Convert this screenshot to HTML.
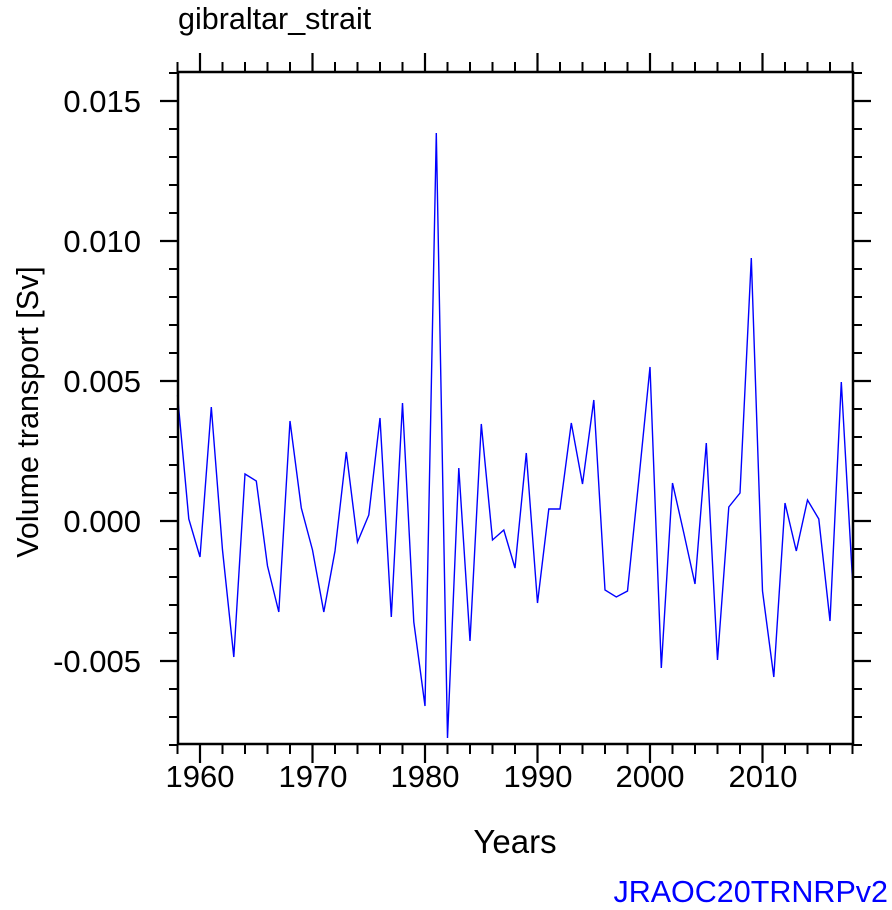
<!DOCTYPE html>
<html><head><meta charset="utf-8"><style>
html,body{margin:0;padding:0;background:#fff;}
svg{display:block;font-family:"Liberation Sans",Arial,sans-serif;}
</style></head><body>
<svg width="892" height="910" viewBox="0 0 892 910" xmlns="http://www.w3.org/2000/svg">
<text x="178" y="29" font-size="30.5" fill="#000">gibraltar_strait</text>
<g stroke="#000">
<line x1="176.5" y1="67" x2="854" y2="67" stroke-width="10" stroke-dasharray="2 20.5"/>
<line x1="176.5" y1="749" x2="854" y2="749" stroke-width="10" stroke-dasharray="2 20.5"/>
<line x1="173.5" y1="72" x2="173.5" y2="746" stroke-width="9" stroke-dasharray="2 26"/>
<line x1="857.5" y1="72" x2="857.5" y2="746" stroke-width="9" stroke-dasharray="2 26"/>
<path stroke-width="2.2" d="M200 72v-19M312.5 72v-19M425 72v-19M537.5 72v-19M650 72v-19M762.5 72v-19M200 744v19M312.5 744v19M425 744v19M537.5 744v19M650 744v19M762.5 744v19M178 101h-18M178 241h-18M178 381h-18M178 521h-18M178 661h-18M853 101h18M853 241h18M853 381h18M853 521h18M853 661h18"/>
</g>
<polyline fill="none" stroke="#0000ff" stroke-width="1.4" points="177.5,395 188.8,519 200,557 211.3,407 222.5,550 233.8,657 245,474 256.3,481 267.5,566 278.8,612 290,421 301.3,508 312.5,550 323.8,612 335,551 346.3,452 357.5,542 368.8,515 380,418 391.3,617 402.5,403 413.8,622 425,706 436.3,133 447.5,738 458.8,468 470,641 481.3,424 492.5,540 503.8,530 515,568 526.3,453 537.5,603 548.8,509 560,509 571.3,423 582.5,484 593.8,400 605,590 616.3,597 627.5,591 638.8,480 650,367 661.3,668 672.5,483 683.8,533 695,584 706.3,443 717.5,660 728.8,507 740,493 751.3,258 762.5,591 773.8,677 785,503 796.3,551 807.5,500 818.8,519 830,621 841.3,382 852.5,580"/>
<rect x="178" y="72" width="675" height="672" fill="none" stroke="#000" stroke-width="2.5"/>
<g font-size="31" fill="#000" text-anchor="end">
<text x="141" y="112">0.015</text>
<text x="141" y="252">0.010</text>
<text x="141" y="392">0.005</text>
<text x="141" y="532">0.000</text>
<text x="141" y="672">-0.005</text>
</g>
<g font-size="31" fill="#000" text-anchor="middle">
<text x="200" y="787">1960</text>
<text x="313" y="787">1970</text>
<text x="425" y="787">1980</text>
<text x="538" y="787">1990</text>
<text x="650" y="787">2000</text>
<text x="763" y="787">2010</text>
</g>
<text x="515" y="853" font-size="33" text-anchor="middle">Years</text>
<text transform="translate(38,412) rotate(-90)" font-size="30.5" text-anchor="middle">Volume transport [Sv]</text>
<text x="888" y="902" font-size="30.5" fill="#0000ff" text-anchor="end">JRAOC20TRNRPv2</text>
</svg>
</body></html>
